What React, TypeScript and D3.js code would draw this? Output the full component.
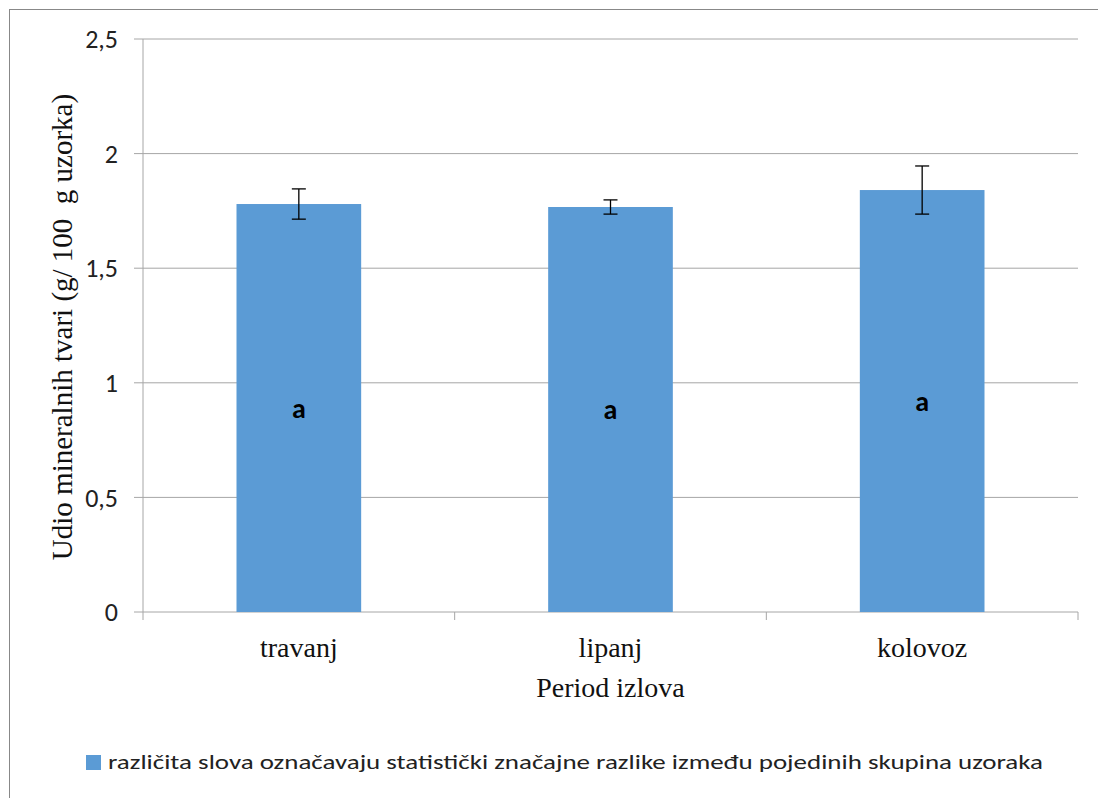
import React from "react";
import * as d3 from "d3";

const categories = ["travanj", "lipanj", "kolovoz"];
const values = [1.78, 1.767, 1.841];
const errors = [0.066, 0.031, 0.105];
const letters = ["a", "a", "a"];
const yTicks = [0, 0.5, 1, 1.5, 2, 2.5];
const yTickLabels = ["0", "0,5", "1", "1,5", "2", "2,5"];
const yTitle = "Udio mineralnih tvari (g/ 100\u00a0 g uzorka)";
const xTitle = "Period izlova";
const legendText = "različita slova označavaju statistički značajne razlike između pojedinih skupina uzoraka";

export default function App() {
  const W = 1098, H = 798;
  const left = 143, right = 1078, top = 39, bottom = 612;
  const x = d3.scaleBand<string>().domain(categories).range([left, right]).paddingInner(0.6).paddingOuter(0.3);
  const xb = d3.scaleBand<string>().domain(categories).range([left, right]);
  const y = d3.scaleLinear().domain([0, 2.5]).range([bottom, top]);
  const sans = "Carlito, 'Open Sans', 'DejaVu Sans', sans-serif";
  const serif = "'Liberation Serif', 'Times New Roman', serif";
  const blue = "#5b9bd5";
  return (
    <svg width={W} height={H} style={{ position: "absolute", left: 0, top: 0 }}>
      <rect x={0} y={0} width={W} height={H} fill="#fff" />
      <rect x={9.5} y={9.5} width={1200} height={900} fill="none" stroke="#888" strokeWidth={1} />
      {yTicks.map((t, i) => (
        <g key={i}>
          <line x1={134} x2={right} y1={y(t)} y2={y(t)} stroke="#a6a6a6" strokeWidth={1} />
          <text x={118} y={y(t)} dy="0.35em" textAnchor="end" fontFamily={sans} fontSize={26} fill="#222">{yTickLabels[i]}</text>
        </g>
      ))}
      <line x1={left} x2={left} y1={top} y2={bottom + 8} stroke="#a6a6a6" />
      {categories.map((c, i) => (
        <line key={"t" + i} x1={xb(c)! + xb.bandwidth()} x2={xb(c)! + xb.bandwidth()} y1={bottom} y2={bottom + 8} stroke="#a6a6a6" />
      ))}
      {categories.map((c, i) => {
        const bx = x(c)!;
        const bw = x.bandwidth();
        const cx = bx + bw / 2;
        const v = values[i];
        const e = errors[i];
        return (
          <g key={c}>
            <rect x={bx} y={y(v)} width={bw} height={y(0) - y(v)} fill={blue} />
            <line x1={cx} x2={cx} y1={y(v + e)} y2={y(v - e)} stroke="#000" strokeWidth={1.3} />
            <line x1={cx - 7} x2={cx + 7} y1={y(v + e)} y2={y(v + e)} stroke="#000" strokeWidth={1.3} />
            <line x1={cx - 7} x2={cx + 7} y1={y(v - e)} y2={y(v - e)} stroke="#000" strokeWidth={1.3} />
            <text x={cx} y={(y(v) + y(0)) / 2} dy="0.35em" textAnchor="middle" fontFamily={sans} fontWeight="bold" fontSize={28} fill="#000">{letters[i]}</text>
            <text x={cx} y={657} textAnchor="middle" fontFamily={serif} fontSize={28} fill="#111">{c}</text>
          </g>
        );
      })}
      <text x={(left + right) / 2} y={697} textAnchor="middle" fontFamily={serif} fontSize={28} fill="#111">{xTitle}</text>
      <text transform={`translate(72, 327) rotate(-90)`} textAnchor="middle" fontFamily={serif} fontSize={29} fill="#111">{yTitle}</text>
      <rect x={86} y={755} width={15} height={15} fill={blue} />
      <text x={108} y={769} fontFamily={sans} fontSize={21} fill="#222" textLength={935} lengthAdjust="spacingAndGlyphs">{legendText}</text>
    </svg>
  );
}
